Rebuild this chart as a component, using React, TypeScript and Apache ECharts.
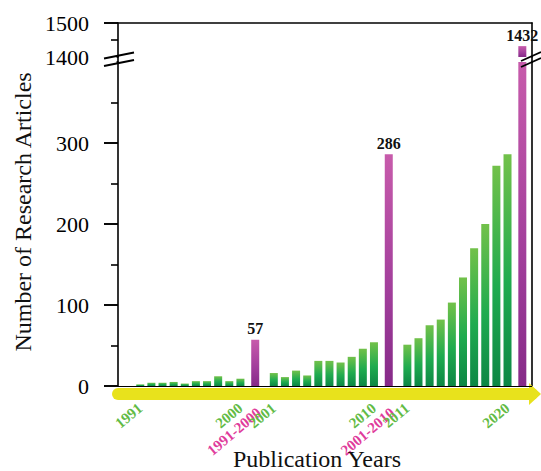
import React, { useEffect, useRef } from 'react';
import * as echarts from 'echarts';

// ---- data ----
const counts1991to2000 = [2, 4, 4, 5, 3, 6, 6, 12, 6, 9];
const counts2001to2010 = [16, 11, 19, 13, 31, 31, 29, 36, 46, 54];
const counts2011to2020 = [51, 59, 75, 82, 103, 134, 170, 200, 272, 286];
const decadeLabels = ['1991-2000', '2001-2010', '2011-2020'];
const decadeTotals = [57, 286, 1432];
const decadeFirstYears = ['1991', '2001', '2011'];
const decadeLastYears = ['2000', '2010', '2020'];
const lowerTickValues = [0, 100, 200, 300];
const upperTickValues = [1400, 1500];
const upperMajorTicks = [1500];

const SERIF = "'Liberation Serif', 'Times New Roman', serif";

// layout of the two stacked grids (pixels)
const PLOT_LEFT = 118;
const PLOT_RIGHT = 9;
const LOWER_TOP = 62;
const LOWER_BOTTOM = 85;
const UPPER_TOP = 23;
const UPPER_BOTTOM = 414;
const CH = 471;

export default function App() {
  const ref = useRef<HTMLDivElement>(null);

  useEffect(() => {
    if (!ref.current) return;
    const chart = echarts.init(ref.current, null, { renderer: 'svg' });

    const greenGrad = () =>
      new echarts.graphic.LinearGradient(0, 0, 0, 1, [
        { offset: 0, color: '#72c14a' },
        { offset: 0.55, color: '#1fab4f' },
        { offset: 1, color: '#0d8745' },
      ]);
    const purpleGrad = () =>
      new echarts.graphic.LinearGradient(0, 0, 0, 1, [
        { offset: 0, color: '#c75bab' },
        { offset: 0.6, color: '#a13e9b' },
        { offset: 1, color: '#862a88' },
      ]);

    const groups = [counts1991to2000, counts2001to2010, counts2011to2020];
    const STRIDE = 12;
    const TOTAL_SHIFT = 10.33;

    const lowerData: any[] = [];
    const labelPos: number[] = [];
    const labelText: string[] = [];
    const labelKind: string[] = [];
    groups.forEach((g, gi) => {
      g.forEach((v, i) => {
        lowerData.push({ value: [gi * STRIDE + i, v], itemStyle: { color: greenGrad() } });
      });
      lowerData.push({
        value: [gi * STRIDE + TOTAL_SHIFT, decadeTotals[gi]],
        itemStyle: { color: purpleGrad() },
        label: { show: gi < 2 },
      });
      labelPos.push(gi * STRIDE, gi * STRIDE + 9, gi * STRIDE + TOTAL_SHIFT);
      labelText.push(decadeFirstYears[gi], decadeLastYears[gi], decadeLabels[gi]);
      labelKind.push('g', 'g', 'm');
    });
    const upperData = [
      { value: [2 * STRIDE + TOTAL_SHIFT, decadeTotals[2]], itemStyle: { color: purpleGrad() } },
    ];

    const xMin = -2;
    const xMax = 35.2;
    const axisBlack = { color: '#000', width: 1.6 };
    const plain = (v: number) => String(v);

    // major tick marks (long) from the axis ranges
    const lowerMin = 0, lowerMax = 400, upperMin = 1400, upperMax = 1500;
    const lowerY0 = CH - LOWER_BOTTOM, lowerY1 = LOWER_TOP;
    const upperY0 = CH - UPPER_BOTTOM, upperY1 = UPPER_TOP;
    const tickLines: any[] = [];
    lowerTickValues.forEach((v) => {
      const y = lowerY0 + ((v - lowerMin) / (lowerMax - lowerMin)) * (lowerY1 - lowerY0);
      tickLines.push({ type: 'line', z: 99, shape: { x1: PLOT_LEFT - 14, y1: y, x2: PLOT_LEFT, y2: y }, style: { stroke: '#000', lineWidth: 1.6 } });
    });
    upperMajorTicks.forEach((v) => {
      const y = upperY0 + ((v - upperMin) / (upperMax - upperMin)) * (upperY1 - upperY0);
      tickLines.push({ type: 'line', z: 99, shape: { x1: PLOT_LEFT - 14, y1: y, x2: PLOT_LEFT, y2: y }, style: { stroke: '#000', lineWidth: 1.6 } });
    });

    const option: any = {
      animation: false,
      grid: [
        { left: PLOT_LEFT, right: PLOT_RIGHT, top: LOWER_TOP, bottom: LOWER_BOTTOM, containLabel: false, outerBoundsMode: 'none' },
        { left: PLOT_LEFT, right: PLOT_RIGHT, top: UPPER_TOP, bottom: UPPER_BOTTOM, containLabel: false, outerBoundsMode: 'none' },
      ],
      xAxis: [
        {
          gridIndex: 0,
          type: 'value',
          min: xMin,
          max: xMax,
          offset: 8,
          splitLine: { show: false },
          axisTick: { show: false },
          axisLine: {
            show: true,
            onZero: false,
            lineStyle: { color: '#e8e21c', width: 12 },
            symbol: ['none', 'triangle'],
            symbolSize: [22, 12],
            symbolOffset: [0, 3],
          },
          axisLabel: {
            customValues: labelPos,
            rotate: 40,
            margin: 12,
            formatter: (v: number) => {
              const i = labelPos.findIndex((p) => Math.abs(p - v) < 1e-6);
              if (i < 0) return '';
              return labelKind[i] === 'm'
                ? `{e| }\n{m|${labelText[i]}}`
                : `{g|${labelText[i]}}`;
            },
            rich: {
              g: { color: '#62bb45', fontWeight: 'bold', fontSize: 15, fontFamily: SERIF },
              m: { color: '#df3c9b', fontWeight: 'bold', fontSize: 15, fontFamily: SERIF },
              e: { fontSize: 10, lineHeight: 12 },
            },
          },
        },
        {
          gridIndex: 1,
          type: 'value',
          min: xMin,
          max: xMax,
          position: 'top',
          splitLine: { show: false },
          axisTick: { show: false },
          axisLabel: { show: false },
          axisLine: { show: true, onZero: false, lineStyle: axisBlack },
        },
      ],
      yAxis: [
        {
          gridIndex: 0,
          type: 'value',
          min: lowerMin,
          max: lowerMax,
          interval: 100,
          splitLine: { show: false },
          axisLine: { show: true, onZero: false, lineStyle: axisBlack },
          axisTick: { show: true, length: 14, lineStyle: axisBlack },
          minorTick: { show: true, splitNumber: 2, length: 7, lineStyle: axisBlack },
          axisLabel: {
            customValues: lowerTickValues,
            formatter: plain,
            margin: 29,
            fontSize: 22,
            color: '#000',
            fontFamily: SERIF,
          },
        },
        {
          gridIndex: 0,
          type: 'value',
          position: 'right',
          min: lowerMin,
          max: lowerMax,
          interval: 100,
          splitLine: { show: false },
          axisLine: { show: true, onZero: false, lineStyle: axisBlack },
          axisTick: { show: false },
          axisLabel: { show: false },
        },
        {
          gridIndex: 1,
          type: 'value',
          min: upperMin,
          max: upperMax,
          interval: 100,
          splitLine: { show: false },
          axisLine: { show: true, onZero: false, lineStyle: axisBlack },
          axisTick: { show: true, length: 14, lineStyle: axisBlack },
          minorTick: { show: true, splitNumber: 2, length: 7, lineStyle: axisBlack },
          axisLabel: {
            customValues: upperTickValues,
            formatter: plain,
            margin: 29,
            fontSize: 22,
            color: '#000',
            fontFamily: SERIF,
          },
        },
        {
          gridIndex: 1,
          type: 'value',
          position: 'right',
          min: upperMin,
          max: upperMax,
          splitLine: { show: false },
          axisLine: { show: true, onZero: false, lineStyle: axisBlack },
          axisTick: { show: false },
          axisLabel: { show: false },
        },
      ],
      series: [
        {
          type: 'bar',
          xAxisIndex: 0,
          yAxisIndex: 0,
          barWidth: 8,
          clip: true,
          data: lowerData,
          label: {
            show: false,
            position: 'top',
            distance: 3,
            fontSize: 16,
            fontWeight: 'bold',
            fontFamily: SERIF,
            color: '#111',
            formatter: (p: any) => String(p.value[1]),
          },
          markLine: {
            silent: true,
            symbol: 'none',
            label: { show: false },
            lineStyle: { color: '#000', width: 1.2, type: 'solid' },
            data: [{ yAxis: 0 }],
          },
        },
        {
          type: 'bar',
          xAxisIndex: 1,
          yAxisIndex: 2,
          barWidth: 8,
          clip: true,
          data: upperData,
          label: {
            show: true,
            position: 'top',
            distance: 3,
            fontSize: 16,
            fontWeight: 'bold',
            fontFamily: SERIF,
            color: '#111',
            formatter: (p: any) => String(p.value[1]),
          },
        },
      ],
      graphic: [
        {
          type: 'text',
          x: 23,
          y: 212,
          rotation: Math.PI / 2,
          z: 100,
          style: {
            text: 'Number of Research Articles',
            font: `24px ${SERIF}`,
            fill: '#111',
            align: 'center',
            verticalAlign: 'middle',
          },
        },
        {
          type: 'text',
          x: 317,
          y: 459,
          z: 100,
          style: {
            text: 'Publication Years',
            font: `24px ${SERIF}`,
            fill: '#111',
            align: 'center',
            verticalAlign: 'middle',
          },
        },
        ...tickLines,
        { type: 'rect', z: 100, shape: { x: 100, y: 54.5, width: 16.5, height: 10 }, style: { fill: '#fff' } },
        { type: 'line', z: 101, shape: { x1: 118, y1: 56, x2: 118, y2: 63 }, style: { stroke: '#000', lineWidth: 1.6 } },
        { type: 'line', z: 101, shape: { x1: 532, y1: 56, x2: 532, y2: 63 }, style: { stroke: '#000', lineWidth: 1.6 } },
        { type: 'line', z: 101, shape: { x1: 104, y1: 58.5, x2: 134, y2: 52.5 }, style: { stroke: '#000', lineWidth: 1.8 } },
        { type: 'line', z: 101, shape: { x1: 104, y1: 66, x2: 134, y2: 60 }, style: { stroke: '#000', lineWidth: 1.8 } },
        { type: 'line', z: 101, shape: { x1: 521, y1: 61, x2: 541, y2: 52 }, style: { stroke: '#000', lineWidth: 1.8 } },
        { type: 'line', z: 101, shape: { x1: 521, y1: 67, x2: 541, y2: 58 }, style: { stroke: '#000', lineWidth: 1.8 } },
      ],
    };

    chart.setOption(option);
    return () => chart.dispose();
  }, []);

  return (
    <div
      ref={ref}
      style={{ position: 'absolute', left: 0, top: 0, width: 541, height: 471, background: '#fff' }}
    />
  );
}
